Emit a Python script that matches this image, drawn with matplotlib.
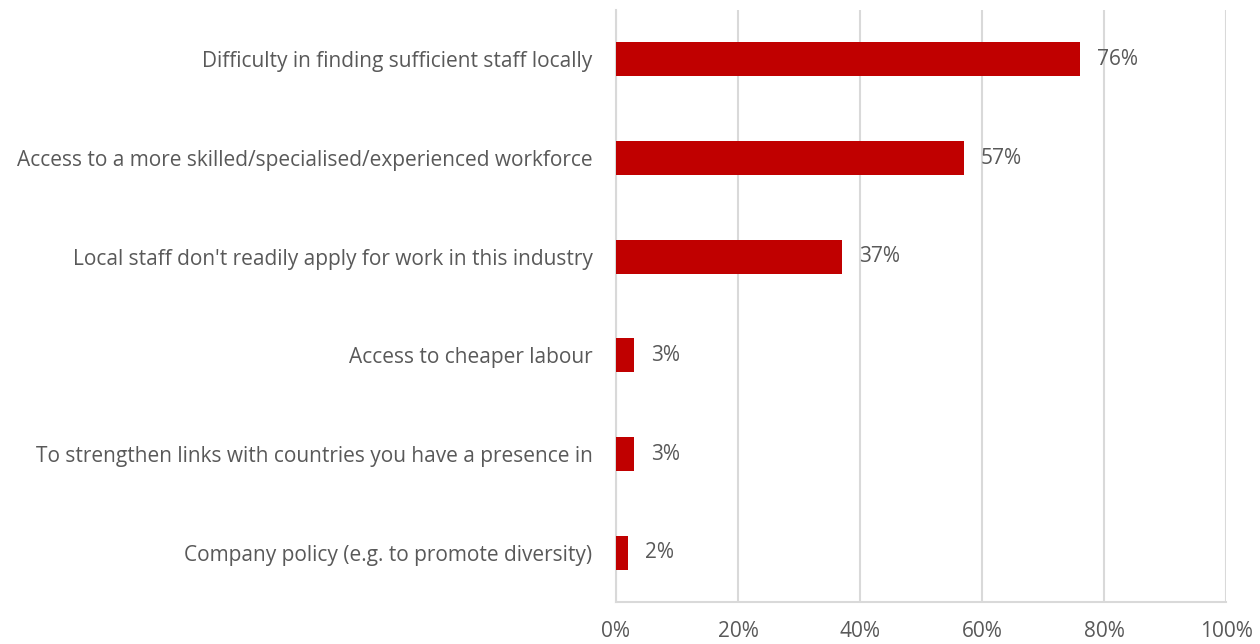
import matplotlib
matplotlib.use("Agg")
import matplotlib.pyplot as plt

categories = [
    "Difficulty in finding sufficient staff locally",
    "Access to a more skilled/specialised/experienced workforce",
    "Local staff don't readily apply for work in this industry",
    "Access to cheaper labour",
    "To strengthen links with countries you have a presence in",
    "Company policy (e.g. to promote diversity)",
]
values = [76, 57, 37, 3, 3, 2]
xticks = [0, 20, 40, 60, 80, 100]

plt.rcParams['font.family'] = ['Open Sans', 'DejaVu Sans']
text_col = '#595959'
grid_col = '#d9d9d9'
fs = 15

fig = plt.figure(figsize=(12.6, 6.44), dpi=100)
ax = fig.add_axes([616/1260, 42/644, 610/1260, 592/644])

ypos = list(range(len(categories)))
ax.barh(ypos, values, height=0.345, color='#c00000', zorder=3)
for y, v in zip(ypos, values):
    ax.text(v + 2.8, y, f"{v}%", va='center', ha='left', fontsize=fs, color=text_col)

ax.set_ylim(len(categories) - 0.5, -0.5)
ax.set_xlim(0, 100)
ax.set_yticks(ypos)
ax.set_yticklabels(categories, fontsize=fs, color=text_col)
ax.set_xticks(xticks)
ax.set_xticklabels([f"{t}%" for t in xticks], fontsize=fs, color=text_col)
ax.tick_params(axis='y', length=0, pad=17)
ax.tick_params(axis='x', length=0, pad=14)

ax.grid(axis='x', color=grid_col, linewidth=1.5, zorder=0)
for s in ['top', 'right']:
    ax.spines[s].set_visible(False)
ax.spines['left'].set_color(grid_col)
ax.spines['left'].set_linewidth(1.5)
ax.spines['bottom'].set_color(grid_col)
ax.spines['bottom'].set_linewidth(1.5)

fig.savefig("out.png", dpi=100)
